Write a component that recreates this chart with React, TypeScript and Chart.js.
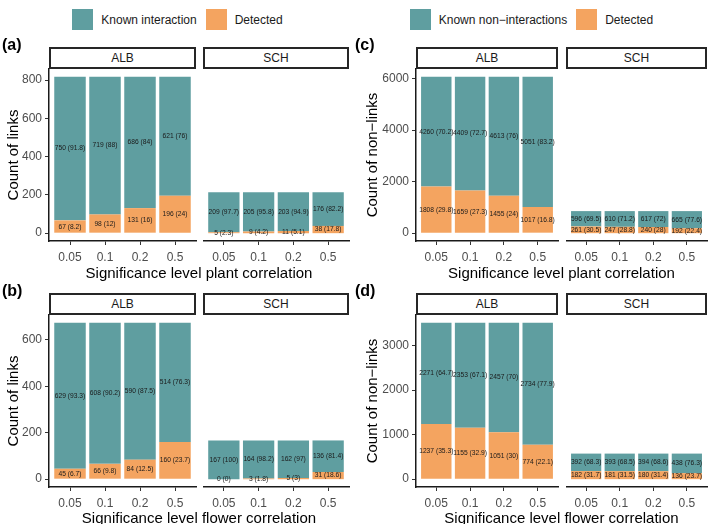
import React, { useEffect, useRef } from "react";
import { Chart, registerables } from "chart.js";

Chart.register(...registerables);

const FONT = "'Liberation Sans', Arial, Helvetica, sans-serif";
const TEAL = "#5F9EA0";
const ORANGE = "#F4A460";
const TICK_COLOR = "#4D4D4D";

const LEVELS = ["0.05", "0.1", "0.2", "0.5"];

// (a) plant correlation – links
const A_ALB_KNOWN = [750, 719, 686, 621];
const A_ALB_DETECTED = [67, 98, 131, 196];
const A_SCH_KNOWN = [209, 205, 203, 176];
const A_SCH_DETECTED = [5, 9, 11, 38];

// (b) flower correlation – links
const B_ALB_KNOWN = [629, 608, 590, 514];
const B_ALB_DETECTED = [45, 66, 84, 160];
const B_SCH_KNOWN = [167, 164, 162, 136];
const B_SCH_DETECTED = [0, 3, 5, 31];

// (c) plant correlation – non-links
const C_ALB_KNOWN = [4260, 4409, 4613, 5051];
const C_ALB_DETECTED = [1808, 1659, 1455, 1017];
const C_SCH_KNOWN = [596, 610, 617, 665];
const C_SCH_DETECTED = [261, 247, 240, 192];

// (d) flower correlation – non-links
const D_ALB_KNOWN = [2271, 2353, 2457, 2734];
const D_ALB_DETECTED = [1237, 1155, 1051, 774];
const D_SCH_KNOWN = [392, 393, 394, 438];
const D_SCH_DETECTED = [182, 181, 180, 136];

const A_TICKS = [0, 200, 400, 600, 800];
const B_TICKS = [0, 200, 400, 600];
const C_TICKS = [0, 2000, 4000, 6000];
const D_TICKS = [0, 1000, 2000, 3000];

type FacetProps = {
  known: number[];
  detected: number[];
  yMin: number;
  yMax: number;
  yTicks: number[];
  showY: boolean;
  left: number;
  top: number;
  plotW: number;
  plotH: number;
  axisW: number;
};

function Facet(p: FacetProps) {
  const ref = useRef<HTMLCanvasElement>(null);
  const yAxisW = p.showY ? p.axisW : 0;
  const xAxisH = 30;
  const padR = 2;
  const padT = 2;
  const cw = yAxisW + p.plotW + padR;
  const ch = padT + p.plotH + xAxisH;

  useEffect(() => {
    const labelPlugin = {
      id: "segLabels",
      afterDatasetsDraw(chart: any) {
        const ctx = chart.ctx;
        const xs = chart.scales.x;
        const ys = chart.scales.y;
        ctx.save();
        ctx.font = `6.7px ${FONT}`;
        ctx.fillStyle = "#1A1A1A";
        ctx.textAlign = "center";
        ctx.textBaseline = "middle";
        p.known.forEach((k, i) => {
          const d = p.detected[i];
          const tot = k + d;
          const fmt = (v: number) => `${v} (${Math.round((v / tot) * 1000) / 10})`;
          const x = xs.getPixelForValue(i + 1);
          ctx.fillText(fmt(d), x, ys.getPixelForValue(d / 2));
          ctx.fillText(fmt(k), x, ys.getPixelForValue(d + k / 2));
        });
        ctx.restore();
      },
    };

    const chart = new Chart(ref.current as HTMLCanvasElement, {
      type: "bar",
      data: {
        datasets: [
          {
            label: "Detected",
            data: p.detected.map((v, i) => ({ x: i + 1, y: v })),
            backgroundColor: ORANGE,
            borderWidth: 0,
          },
          {
            label: "Known",
            data: p.known.map((v, i) => ({ x: i + 1, y: v })),
            backgroundColor: TEAL,
            borderWidth: 0,
          },
        ],
      } as any,
      options: {
        animation: false,
        responsive: false,
        maintainAspectRatio: false,
        layout: { padding: { top: padT, right: padR, left: 0, bottom: 0 } },
        plugins: { legend: { display: false }, tooltip: { enabled: false } },
        datasets: { bar: { barPercentage: 1, categoryPercentage: 0.9 } },
        scales: {
          x: {
            type: "linear",
            min: 0.4,
            max: 4.6,
            stacked: true,
            offset: false,
            afterBuildTicks: (s: any) => {
              s.ticks = LEVELS.map((_, i) => ({ value: i + 1 }));
            },
            afterFit: (s: any) => {
              s.height = xAxisH;
              s.paddingLeft = 0;
              s.paddingRight = 0;
            },
            ticks: {
              callback: (v: any) => LEVELS[Math.round(Number(v)) - 1] ?? "",
              color: TICK_COLOR,
              font: { size: 12, family: FONT },
              padding: 5,
              maxRotation: 0,
              autoSkip: false,
            },
            grid: {
              display: true,
              offset: false,
              drawOnChartArea: false,
              drawTicks: true,
              tickLength: 4,
              color: "#333333",
              lineWidth: 1,
            },
            border: { display: true, color: "#1A1A1A", width: 1.5 },
          },
          y: {
            type: "linear",
            min: p.yMin,
            max: p.yMax,
            stacked: true,
            display: p.showY,
            afterBuildTicks: (s: any) => {
              s.ticks = p.yTicks.map((v) => ({ value: v }));
            },
            afterFit: (s: any) => {
              s.width = p.showY ? p.axisW : 0;
              s.paddingTop = 0;
              s.paddingBottom = 0;
            },
            ticks: {
              color: TICK_COLOR,
              font: { size: 12, family: FONT },
              padding: 3,
              callback: (v: any) => String(v),
            },
            grid: {
              display: true,
              drawOnChartArea: false,
              drawTicks: true,
              tickLength: 4,
              color: "#333333",
              lineWidth: 1,
            },
            border: { display: true, color: "#1A1A1A", width: 1.5 },
          },
        },
      } as any,
      plugins: [labelPlugin],
    });
    return () => chart.destroy();
  }, []);

  return (
    <canvas
      ref={ref}
      width={cw}
      height={ch}
      style={{ position: "absolute", left: p.left - yAxisW, top: p.top - padT, width: cw, height: ch }}
    />
  );
}

type ColCfg = {
  axisW: number;
  albLeft: number;
  albW: number;
  schLeft: number;
  schW: number;
  yTitleX: number;
  letterX: number;
};
type RowCfg = { plotTop: number; plotH: number; xTitleY: number; letterY: number };

const LEFT_COL: ColCfg = { axisW: 49, albLeft: 49, albW: 147, schLeft: 203, schW: 146, yTitleX: 12, letterX: 2 };
const RIGHT_COL: ColCfg = { axisW: 45, albLeft: 416, albW: 142, schLeft: 566, schW: 141, yTitleX: 371, letterX: 355 };
const TOP_ROW: RowCfg = { plotTop: 69, plotH: 172, xTitleY: 272, letterY: 45 };
const BOTTOM_ROW: RowCfg = { plotTop: 315, plotH: 172, xTitleY: 517, letterY: 291 };

const STRIP_H = 22;

function Strip({ left, top, width, text }: { left: number; top: number; width: number; text: string }) {
  return (
    <div
      style={{
        position: "absolute",
        left,
        top,
        width,
        height: STRIP_H,
        boxSizing: "border-box",
        border: "2px solid #262626",
        background: "#FFFFFF",
        display: "flex",
        alignItems: "center",
        justifyContent: "center",
        fontFamily: FONT,
        fontSize: 12,
        color: "#1A1A1A",
      }}
    >
      {text}
    </div>
  );
}

type PanelProps = {
  letter: string;
  col: ColCfg;
  row: RowCfg;
  albKnown: number[];
  albDetected: number[];
  schKnown: number[];
  schDetected: number[];
  yTicks: number[];
  yTitle: string;
  xTitle: string;
};

function Panel(p: PanelProps) {
  const totals = [
    ...p.albKnown.map((v, i) => v + p.albDetected[i]),
    ...p.schKnown.map((v, i) => v + p.schDetected[i]),
  ];
  const top = Math.max(...totals);
  const yMin = -0.05 * top;
  const yMax = top * 1.05;
  const { col, row } = p;
  const xCenter = (col.albLeft + col.schLeft + col.schW) / 2;
  const yCenter = row.plotTop + row.plotH / 2;
  return (
    <>
      <Facet
        known={p.albKnown}
        detected={p.albDetected}
        yMin={yMin}
        yMax={yMax}
        yTicks={p.yTicks}
        showY={true}
        left={col.albLeft}
        top={row.plotTop}
        plotW={col.albW}
        plotH={row.plotH}
        axisW={col.axisW}
      />
      <Facet
        known={p.schKnown}
        detected={p.schDetected}
        yMin={yMin}
        yMax={yMax}
        yTicks={p.yTicks}
        showY={false}
        left={col.schLeft}
        top={row.plotTop}
        plotW={col.schW}
        plotH={row.plotH}
        axisW={col.axisW}
      />
      <Strip left={col.albLeft} top={row.plotTop - STRIP_H} width={col.albW} text="ALB" />
      <Strip left={col.schLeft} top={row.plotTop - STRIP_H} width={col.schW} text="SCH" />
      <div
        style={{
          position: "absolute",
          left: col.yTitleX,
          top: yCenter,
          transform: "translate(-50%, -50%) rotate(-90deg)",
          whiteSpace: "nowrap",
          fontFamily: FONT,
          fontSize: 15,
          color: "#000",
        }}
      >
        {p.yTitle}
      </div>
      <div
        style={{
          position: "absolute",
          left: xCenter,
          top: row.xTitleY,
          transform: "translate(-50%, -50%)",
          whiteSpace: "nowrap",
          fontFamily: FONT,
          fontSize: 15,
          color: "#000",
        }}
      >
        {p.xTitle}
      </div>
      <div
        style={{
          position: "absolute",
          left: col.letterX,
          top: row.letterY,
          transform: "translate(0, -50%)",
          whiteSpace: "nowrap",
          fontFamily: FONT,
          fontSize: 16,
          fontWeight: "bold",
          color: "#000",
        }}
      >
        {p.letter}
      </div>
    </>
  );
}

function Legend({ left, width, knownLabel }: { left: number; width: number; knownLabel: string }) {
  const key = (c: string) => (
    <div style={{ width: 21, height: 21, background: c, flex: "0 0 auto" }} />
  );
  const txt: React.CSSProperties = { fontFamily: FONT, fontSize: 12, color: "#1A1A1A", whiteSpace: "nowrap" };
  return (
    <div
      style={{
        position: "absolute",
        left,
        width,
        top: 9,
        height: 21,
        display: "flex",
        alignItems: "center",
        justifyContent: "center",
      }}
    >
      {key(TEAL)}
      <span style={{ ...txt, marginLeft: 8, marginRight: 9 }}>{knownLabel}</span>
      {key(ORANGE)}
      <span style={{ ...txt, marginLeft: 8 }}>Detected</span>
    </div>
  );
}

export default function App() {
  return (
    <div
      style={{
        position: "fixed",
        left: 0,
        top: 0,
        width: 709,
        height: 524,
        background: "#FFFFFF",
        overflow: "hidden",
      }}
    >
      <Legend left={0} width={355} knownLabel="Known interaction" />
      <Legend left={354} width={355} knownLabel="Known non−interactions" />
      <Panel
        letter="(a)"
        col={LEFT_COL}
        row={TOP_ROW}
        albKnown={A_ALB_KNOWN}
        albDetected={A_ALB_DETECTED}
        schKnown={A_SCH_KNOWN}
        schDetected={A_SCH_DETECTED}
        yTicks={A_TICKS}
        yTitle="Count of links"
        xTitle="Significance level plant correlation"
      />
      <Panel
        letter="(b)"
        col={LEFT_COL}
        row={BOTTOM_ROW}
        albKnown={B_ALB_KNOWN}
        albDetected={B_ALB_DETECTED}
        schKnown={B_SCH_KNOWN}
        schDetected={B_SCH_DETECTED}
        yTicks={B_TICKS}
        yTitle="Count of links"
        xTitle="Significance level flower correlation"
      />
      <Panel
        letter="(c)"
        col={RIGHT_COL}
        row={TOP_ROW}
        albKnown={C_ALB_KNOWN}
        albDetected={C_ALB_DETECTED}
        schKnown={C_SCH_KNOWN}
        schDetected={C_SCH_DETECTED}
        yTicks={C_TICKS}
        yTitle="Count of non−links"
        xTitle="Significance level plant correlation"
      />
      <Panel
        letter="(d)"
        col={RIGHT_COL}
        row={BOTTOM_ROW}
        albKnown={D_ALB_KNOWN}
        albDetected={D_ALB_DETECTED}
        schKnown={D_SCH_KNOWN}
        schDetected={D_SCH_DETECTED}
        yTicks={D_TICKS}
        yTitle="Count of non−links"
        xTitle="Significance level flower correlation"
      />
    </div>
  );
}
